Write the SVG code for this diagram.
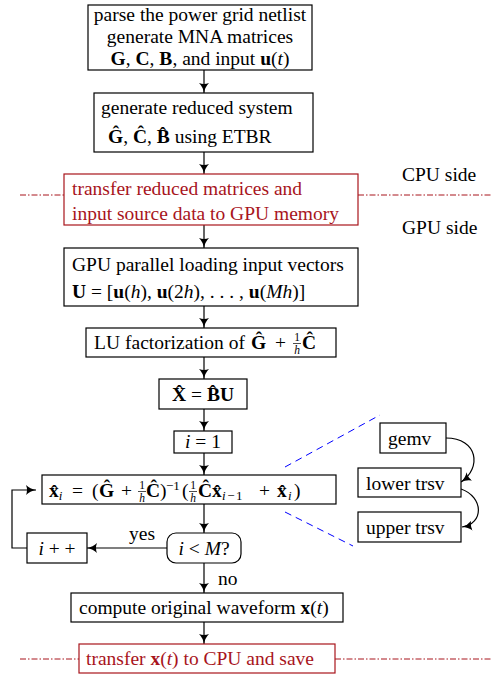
<svg xmlns="http://www.w3.org/2000/svg" width="491" height="677" viewBox="0 0 491 677">
<style>
text{font-family:"Liberation Serif","DejaVu Serif",serif;font-size:19.5px;fill:#000}
.b{font-weight:bold}
.i{font-style:italic}
.box{fill:#fff;stroke:#000;stroke-width:1.2}
.rbox{fill:#fff;stroke:#a8141c;stroke-width:1.2}
.r{fill:#a8141c}
.ln{fill:none;stroke:#000;stroke-width:1.2}
.fb{fill:none;stroke:#000;stroke-width:0.7}
.dd{fill:none;stroke:#a8141c;stroke-width:1;stroke-dasharray:6,2,1.5,2}
.bl{fill:none;stroke:#0000ff;stroke-width:1;stroke-dasharray:7,5}
.f{font-size:13px}
.fr{font-size:11.5px}
</style>
<defs>
<marker id="ah" viewBox="0 0 10 10" refX="10" refY="5" markerWidth="10" markerHeight="10" markerUnits="userSpaceOnUse" orient="auto">
<path d="M0,0 Q4,4 10,5 Q4,6 0,10 Q2,5 0,0 z" fill="#000"/>
</marker>
</defs>
<g id="connectors">
<line class="ln" x1="204" y1="70" x2="204" y2="93" marker-end="url(#ah)"/>
<line class="ln" x1="204" y1="152" x2="204" y2="174" marker-end="url(#ah)"/>
<line class="ln" x1="204" y1="225" x2="204" y2="248" marker-end="url(#ah)"/>
<line class="ln" x1="204" y1="306" x2="204" y2="328" marker-end="url(#ah)"/>
<line class="ln" x1="204" y1="357" x2="204" y2="379" marker-end="url(#ah)"/>
<line class="ln" x1="204" y1="409" x2="204" y2="431" marker-end="url(#ah)"/>
<line class="ln" x1="204" y1="453" x2="204" y2="475" marker-end="url(#ah)"/>
<line class="ln" x1="204" y1="504" x2="204" y2="533" marker-end="url(#ah)"/>
<line class="ln" x1="204" y1="563" x2="204" y2="593" marker-end="url(#ah)"/>
<line class="ln" x1="204" y1="622" x2="204" y2="644" marker-end="url(#ah)"/>
<line class="ln" x1="167" y1="548" x2="87" y2="548" marker-end="url(#ah)"/>
<polyline class="ln" points="27,548 12,548 12,490 36,490" marker-end="url(#ah)"/>
<path class="ln" d="M446,438 C478,438 482,468 461,482" marker-end="url(#ah)"/>
<path class="ln" d="M461,489 C484,497 484,524 462,527" marker-end="url(#ah)"/>
<line class="bl" x1="285" y1="467" x2="380" y2="415"/>
<line class="bl" x1="285" y1="512" x2="353" y2="546"/>
<line class="dd" x1="20" y1="195" x2="64" y2="195"/>
<line class="dd" x1="358" y1="195" x2="491" y2="195"/>
<line class="dd" x1="20" y1="659" x2="79" y2="659"/>
<line class="dd" x1="335" y1="659" x2="491" y2="659"/>
<text x="402" y="181">CPU side</text>
<text x="402" y="234">GPU side</text>
<text x="129" y="540">yes</text>
<text x="218" y="585">no</text>
</g>
<g id="parse">
<rect class="box" x="88" y="5" width="224" height="65"/>
<text x="200" y="21" text-anchor="middle">parse the power grid netlist</text>
<text x="200" y="43" text-anchor="middle">generate MNA matrices</text>
<text x="200" y="65" text-anchor="middle"><tspan class="b">G</tspan>, <tspan class="b">C</tspan>, <tspan class="b">B</tspan>, and input <tspan class="b">u</tspan>(<tspan class="i">t</tspan>)</text>
</g>
<g id="reduce">
<rect class="box" x="94" y="93" width="219" height="59"/>
<text x="101" y="114">generate reduced system</text>
<text x="108" y="143"><tspan class="b">Ĝ</tspan>, <tspan class="b">Ĉ</tspan>, <tspan class="b">B̂</tspan> using ETBR</text>
</g>
<g id="transfer1">
<rect class="rbox" x="64" y="174" width="294" height="51"/>
<text class="r" x="72" y="195">transfer reduced matrices and</text>
<text class="r" x="72" y="220">input source data to GPU memory</text>
</g>
<g id="load">
<rect class="box" x="64" y="248" width="294" height="58"/>
<text x="72" y="271">GPU parallel loading input vectors</text>
<text x="72" y="298"><tspan class="b">U</tspan> = [<tspan class="b">u</tspan>(<tspan class="i">h</tspan>), <tspan class="b">u</tspan>(2<tspan class="i">h</tspan>), . . . , <tspan class="b">u</tspan>(<tspan class="i">Mh</tspan>)]</text>
</g>
<g id="lu">
<rect class="box" x="86" y="328" width="250" height="29"/>
<text x="94" y="349" textLength="151" lengthAdjust="spacing">LU factorization of</text>
<text y="349"><tspan x="251" class="b">Ĝ</tspan><tspan x="275">+</tspan></text>
<text class="fr" x="297" y="341" text-anchor="middle">1</text>
<line class="fb" x1="293" y1="343.5" x2="301" y2="343.5"/>
<text class="fr i" x="297" y="354" text-anchor="middle">h</text>
<text class="b" x="302" y="349">Ĉ</text>
</g>
<g id="xb">
<rect class="box" x="159" y="379" width="88" height="30"/>
<text x="203" y="401" text-anchor="middle"><tspan class="b">X̂</tspan> = <tspan class="b">B̂U</tspan></text>
</g>
<g id="init">
<rect class="box" x="174" y="431" width="58" height="22"/>
<text x="203" y="448" text-anchor="middle"><tspan class="i">i</tspan> = 1</text>
</g>
<g id="solve">
<rect class="box" x="42" y="475" width="294" height="29"/>
<text y="497"><tspan x="49" class="b">x̂</tspan><tspan class="f i" dy="3">i</tspan><tspan x="72" dy="-3">=</tspan><tspan x="92">(</tspan><tspan x="99" class="b">Ĝ</tspan><tspan x="121">+</tspan></text>
<text class="fr" x="142" y="489" text-anchor="middle">1</text>
<line class="fb" x1="138" y1="491.5" x2="146" y2="491.5"/>
<text class="fr i" x="142" y="502" text-anchor="middle">h</text>
<text y="497"><tspan x="146" class="b">Ĉ</tspan>)<tspan class="f" x="166" dy="-7">−1</tspan><tspan x="182" dy="7">(</tspan></text>
<text class="fr" x="193" y="489" text-anchor="middle">1</text>
<line class="fb" x1="189" y1="491.5" x2="197" y2="491.5"/>
<text class="fr i" x="193" y="502" text-anchor="middle">h</text>
<text y="497"><tspan x="198" class="b">Ĉ</tspan><tspan x="212" class="b">x̂</tspan><tspan class="f" x="222" dy="3" letter-spacing="1.5"><tspan class="i">i</tspan>−1</tspan><tspan x="259" dy="-3">+</tspan><tspan x="277" class="b">x̂</tspan><tspan class="f i" x="288" dy="3">i</tspan><tspan x="294" dy="-3">)</tspan></text>
</g>
<g id="cond">
<rect class="box" x="167" y="533" width="74" height="30" rx="9"/>
<text x="204" y="555" text-anchor="middle"><tspan class="i">i</tspan> &lt; <tspan class="i">M</tspan>?</text>
</g>
<g id="inc">
<rect class="box" x="27" y="533" width="60" height="30"/>
<text x="57" y="555" text-anchor="middle"><tspan class="i">i</tspan> + +</text>
</g>
<g id="gemv">
<rect class="box" x="380" y="423" width="66" height="30"/>
<text x="388" y="445">gemv</text>
</g>
<g id="lower">
<rect class="box" x="358" y="468" width="103" height="29"/>
<text x="366" y="490">lower trsv</text>
</g>
<g id="upper">
<rect class="box" x="358" y="512" width="103" height="30"/>
<text x="366" y="534">upper trsv</text>
</g>
<g id="compute">
<rect class="box" x="71" y="593" width="272" height="29"/>
<text x="79" y="614">compute original waveform <tspan class="b">x</tspan>(<tspan class="i">t</tspan>)</text>
</g>
<g id="transfer2">
<rect class="rbox" x="79" y="644" width="256" height="29"/>
<text class="r" x="86" y="665">transfer <tspan class="b">x</tspan>(<tspan class="i">t</tspan>) to CPU and save</text>
</g>
</svg>
